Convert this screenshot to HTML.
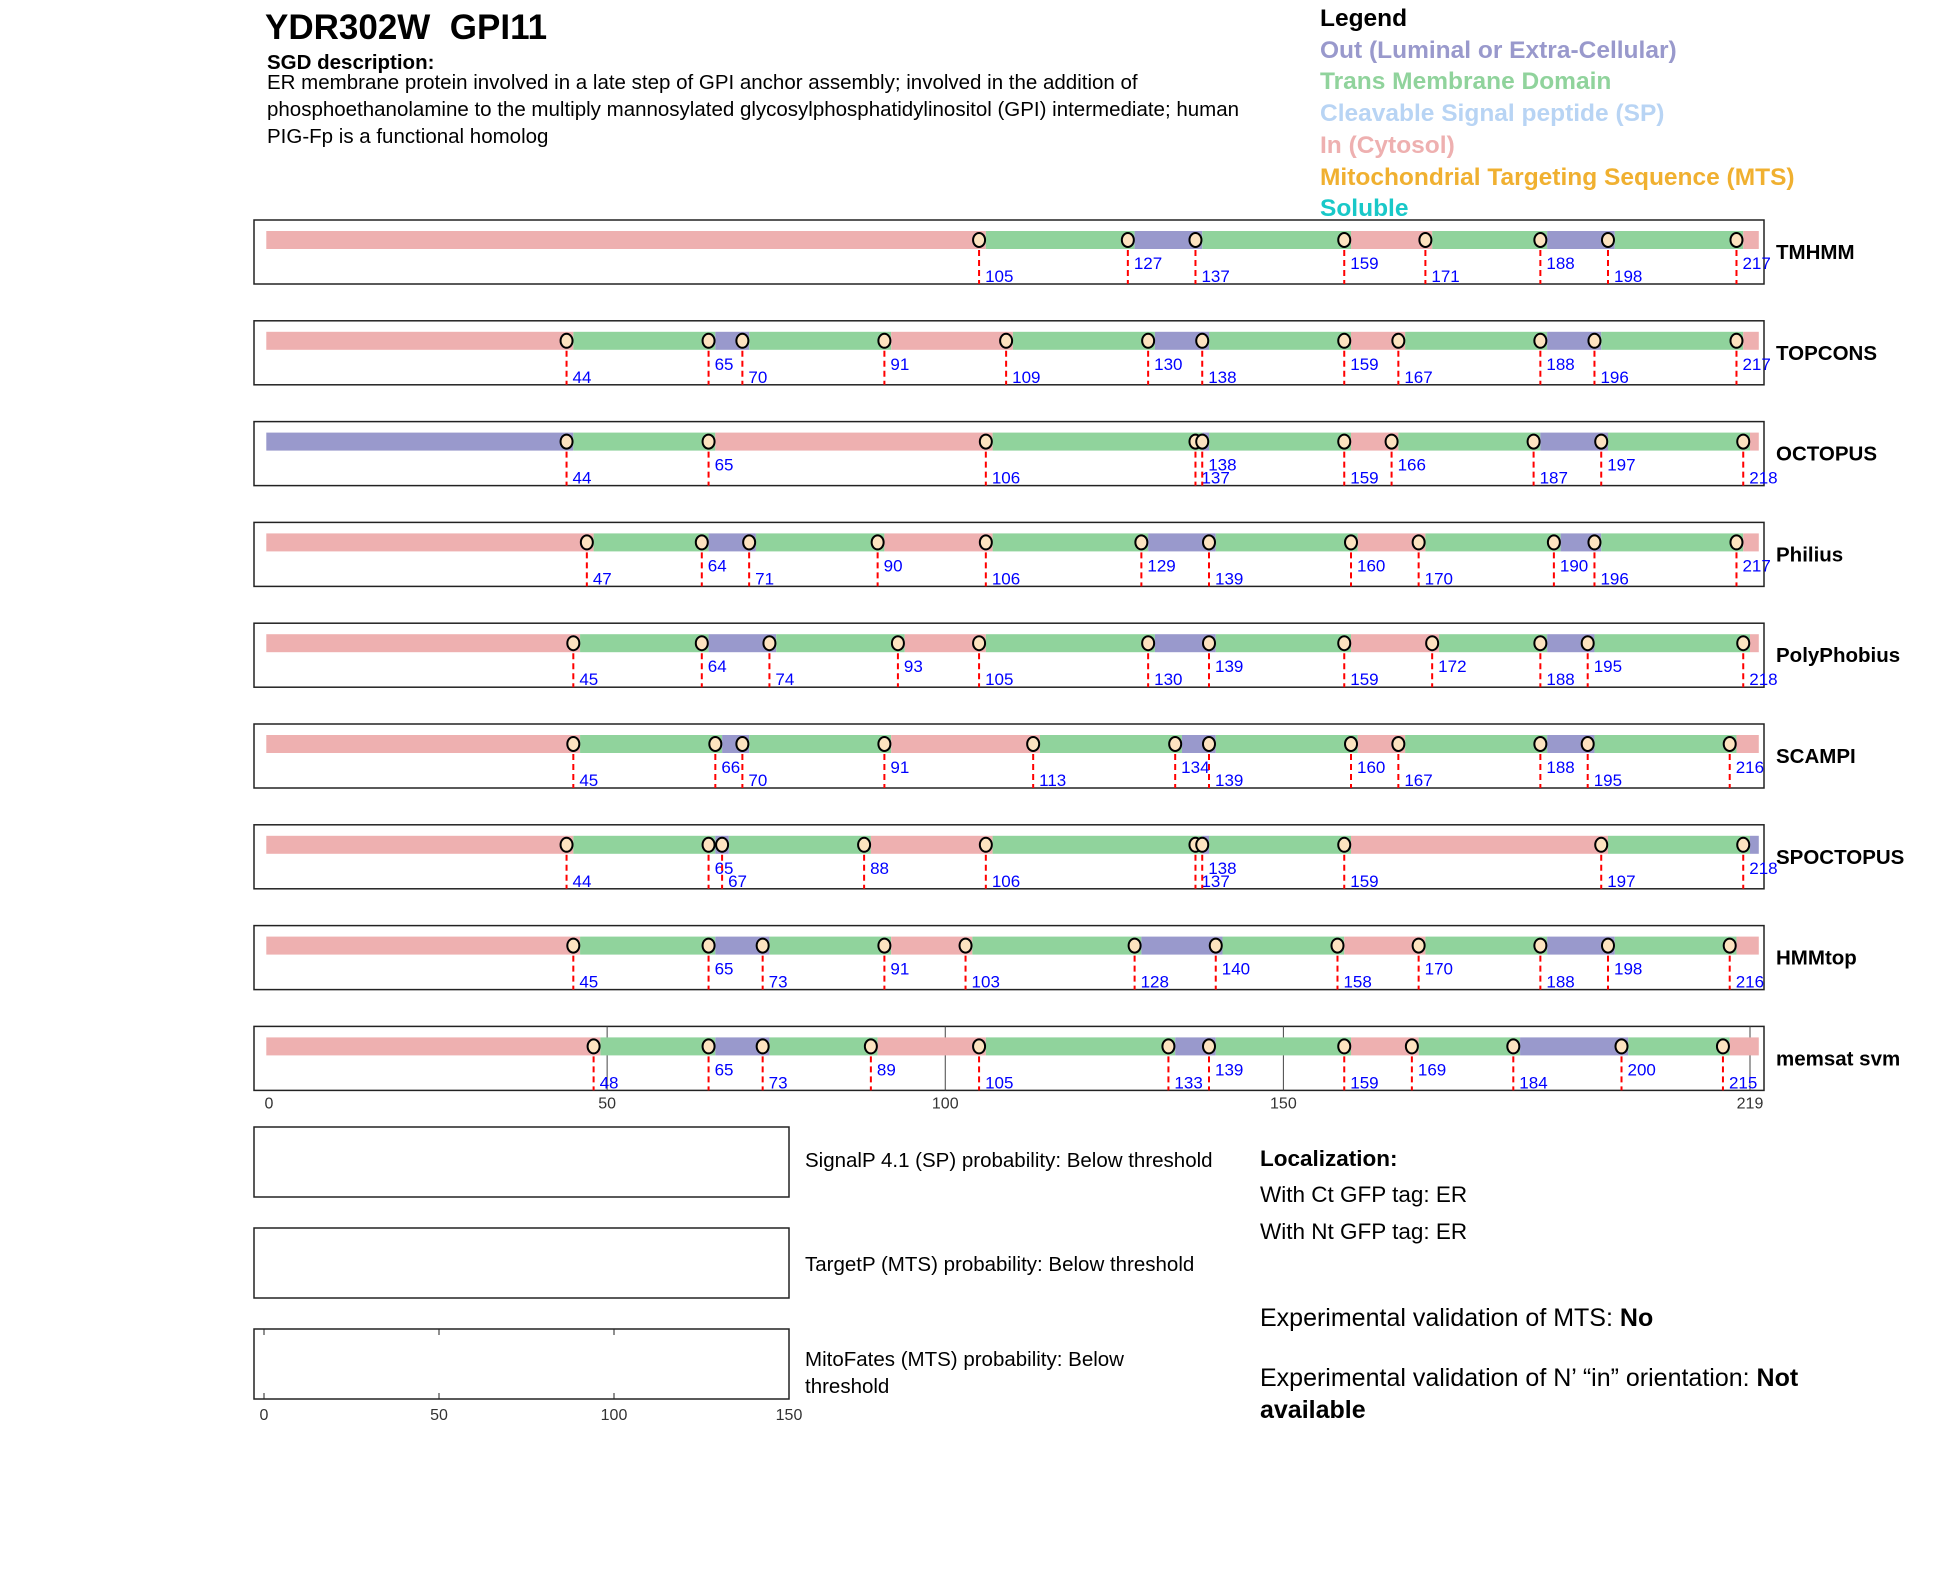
<!DOCTYPE html>
<html><head><meta charset="utf-8">
<style>
body{margin:0;background:#fff;width:1950px;height:1573px;overflow:hidden;font-family:"Liberation Sans",Arial,sans-serif;}
svg{position:absolute;left:0;top:0;}
</style></head>
<body>
<svg id="chart" width="1950" height="1573" xmlns="http://www.w3.org/2000/svg" font-family="Liberation Sans, Arial, sans-serif">
<g>
<text x="265" y="39" font-size="35" font-weight="bold" xml:space="preserve">YDR302W  GPI11</text>
<text x="267" y="69" font-size="20.5" font-weight="bold">SGD description:</text>
<text x="267" y="89" font-size="20.5">ER membrane protein involved in a late step of GPI anchor assembly; involved in the addition of</text>
<text x="267" y="116" font-size="20.5">phosphoethanolamine to the multiply mannosylated glycosylphosphatidylinositol (GPI) intermediate; human</text>
<text x="267" y="143" font-size="20.5">PIG-Fp is a functional homolog</text>
</g>
<g font-size="24.5" font-weight="bold">
<text x="1320" y="26" fill="#000">Legend</text>
<text x="1320" y="58" fill="#9999cc">Out (Luminal or Extra-Cellular)</text>
<text x="1320" y="89" fill="#90d39c">Trans Membrane Domain</text>
<text x="1320" y="121" fill="#b8d4f4">Cleavable Signal peptide (SP)</text>
<text x="1320" y="153" fill="#eeb0b0">In (Cytosol)</text>
<text x="1320" y="185" fill="#f0b030">Mitochondrial Targeting Sequence (MTS)</text>
<text x="1320" y="216" fill="#19c8c8">Soluble</text>
</g>
<g id="tracks"></g>
<g id="bottom"></g>
<g font-size="22.5">
<text x="1260" y="1166" font-weight="bold">Localization:</text>
<text x="1260" y="1202">With Ct GFP tag: ER</text>
<text x="1260" y="1239">With Nt GFP tag: ER</text>
<text x="1260" y="1326" font-size="25">Experimental validation of MTS: <tspan font-weight="bold">No</tspan></text>
<text x="1260" y="1386" font-size="25">Experimental validation of N’ “in” orientation: <tspan font-weight="bold">Not</tspan></text>
<text x="1260" y="1418" font-size="25" font-weight="bold">available</text>
</g>
</svg>
<script>
const predictors = ["TMHMM","TOPCONS","OCTOPUS","Philius","PolyPhobius","SCAMPI","SPOCTOPUS","HMMtop","memsat svm"];
const boundaries = [
 [105,127,137,159,171,188,198,217],
 [44,65,70,91,109,130,138,159,167,188,196,217],
 [44,65,106,137,138,159,166,187,197,218],
 [47,64,71,90,106,129,139,160,170,190,196,217],
 [45,64,74,93,105,130,139,159,172,188,195,218],
 [45,66,70,91,113,134,139,160,167,188,195,216],
 [44,65,67,88,106,137,138,159,197,218],
 [45,65,73,91,103,128,140,158,170,188,198,216],
 [48,65,73,89,105,133,139,159,169,184,200,215]
];
// segment states: i=in, t=tm, o=out (one more than boundaries)
const states = [
 "itotitoti",
 "itotitotitoti",
 "otitotitoti",
 "itotitotitoti",
 "itotitotitoti",
 "itotitotitoti",
 "itotitotito",
 "itotitotitoti",
 "itotitotitoti"
];
// 1 = high label, 0 = low label
const labelHigh = [
 [0,1,0,1,0,1,0,1],
 [0,1,0,1,0,1,0,1,0,1,0,1],
 [0,1,0,0,1,0,1,0,1,0],
 [0,1,0,1,0,1,0,1,0,1,0,1],
 [0,1,0,1,0,0,1,0,1,0,1,0],
 [0,1,0,1,0,1,0,1,0,1,0,1],
 [0,1,0,1,0,0,1,0,0,1],
 [0,1,0,1,0,0,1,0,1,0,1,0],
 [0,1,0,1,0,0,1,0,1,0,1,0]
];
const seqLength = 219;
const axisTicks = [0,50,100,150,219];
const mitoTicks = [0,50,100,150];

const NS="http://www.w3.org/2000/svg";
const colors={i:"#eeb0b0",t:"#90d39c",o:"#9999cc"};
const X0=269, X1=1750;
const xs = r => X0 + r*(X1-X0)/seqLength;
function mk(tag,attrs,parent){const e=document.createElementNS(NS,tag);for(const k in attrs)e.setAttribute(k,attrs[k]);parent.appendChild(e);return e;}
const tracks=document.getElementById('tracks');
const PT=220, PS=100.8, PH=64;
predictors.forEach((name,p)=>{
  const top=PT+p*PS;
  const g=mk('g',{},tracks);
  
  
  const box=mk('rect',{x:254,y:top,width:1510,height:PH,fill:'#fff',stroke:'#222','stroke-width':1.5},g);
  
  
  if(p===predictors.length-1){
    axisTicks.slice(1).forEach(t=>{
      const l=mk('line',{x1:xs(t),x2:xs(t),y1:top,y2:top+PH,stroke:'#444','stroke-width':1},g);
      
      
    });
  }
  const b=boundaries[p], st=states[p];
  const edges=[-0.4].concat(b.map(v=>v+1)).concat([220.3]);
  for(let s=0;s<st.length;s++){
    const a=xs(edges[s]), c=xs(edges[s+1]);
    const r=mk('rect',{x:a,y:top+11,width:Math.max(0,c-a),height:18,fill:colors[st[s]]},g);
    
    
  }
  b.forEach((v,k)=>{
    const x=xs(v);
    const ln=mk('line',{x1:x,x2:x,y1:top+20,y2:top+PH,stroke:'#ff0000','stroke-width':2,'stroke-dasharray':'6,4'},g);
    
    
    const c=mk('ellipse',{cx:x,cy:top+20,rx:6,ry:7,fill:'#fde3c0',stroke:'#000','stroke-width':2},g);
    
    
    const t=mk('text',{x:x+6,y:labelHigh[p][k]?top+49:top+62,'font-size':17,fill:'#0000ff'},g);
    t.textContent=v;
    
    
  });
  const tl=mk('text',{x:1776,y:top+39,'font-size':20.5,'font-weight':'bold'},g);
  tl.textContent=name;
  
  
});
const lastTop=PT+8*PS;
axisTicks.forEach(t=>{
  const tx=mk('text',{x:xs(t),y:lastTop+82,'font-size':16,fill:'#333','text-anchor':'middle'},tracks);
  tx.textContent=t;
  
  
});
const bottom=document.getElementById('bottom');
const panels=[
 {y:1127,lines:["SignalP 4.1 (SP) probability: Below threshold"],ty:1167,name:'signalp-panel'},
 {y:1228,lines:["TargetP (MTS) probability: Below threshold"],ty:1271,name:'targetp-panel'},
 {y:1329,lines:["MitoFates (MTS) probability: Below","threshold"],ty:1366,name:'mitofates-panel'}
];
panels.forEach((pn,i)=>{
  const r=mk('rect',{x:254,y:pn.y,width:535,height:70,fill:'#fff',stroke:'#222','stroke-width':1.5},bottom);
  
  
  pn.lines.forEach((ln,j)=>{
    const t=mk('text',{x:805,y:pn.ty+j*27,'font-size':20.5},bottom);
    t.textContent=ln;
    
    
  });
});
const mx=v=>264+v*(789-264)/150;
mitoTicks.forEach(v=>{
  mk('line',{x1:mx(v),x2:mx(v),y1:1329,y2:1335,stroke:'#222'},bottom);
  mk('line',{x1:mx(v),x2:mx(v),y1:1393,y2:1399,stroke:'#222'},bottom);
  const t=mk('text',{x:mx(v),y:1420,'font-size':16,fill:'#333','text-anchor':'middle'},bottom);
  t.textContent=v;
  
  
});
</script>
</body></html>
